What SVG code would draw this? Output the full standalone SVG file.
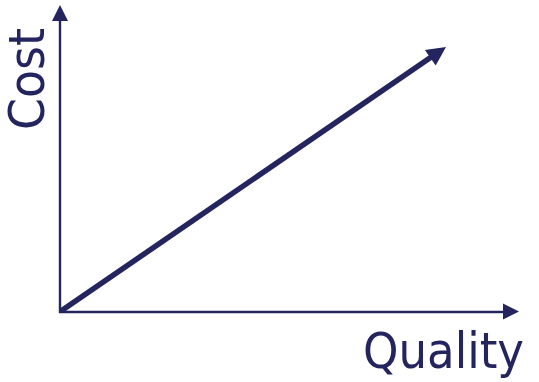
<svg xmlns="http://www.w3.org/2000/svg" width="539" height="382" viewBox="0 0 539 382">
<style>
.ax{stroke:#24245e;fill:none;stroke-width:2.4}
.tr{stroke:#24245e;fill:none;stroke-width:5.5}
.head{fill:#24245e;stroke:none}
.lbl{font-family:"DejaVu Sans Condensed","DejaVu Sans",sans-serif;font-size:49px;fill:#24245e}
</style>
<g id="connectors">
<g id="y-axis"><line class="ax" x1="60" y1="313" x2="60" y2="18"/><polygon class="head" points="60,5 52,21 68,21"/></g>
<g id="x-axis"><line class="ax" x1="59" y1="312" x2="506" y2="312"/><polygon class="head" points="519,311.5 503,303.5 503,319.5"/></g>
<g id="trend"><line class="tr" x1="61" y1="311" x2="432" y2="56.6"/><polygon class="head" points="446,47 435.7,65.6 424.9,49.9"/></g>
</g>
<g id="label-quality"><text class="lbl" x="363" y="368" textLength="161" lengthAdjust="spacingAndGlyphs">Quality</text></g>
<g id="label-cost"><text class="lbl" transform="translate(44,130) rotate(-90)" textLength="102" lengthAdjust="spacingAndGlyphs">Cost</text></g>
</svg>
